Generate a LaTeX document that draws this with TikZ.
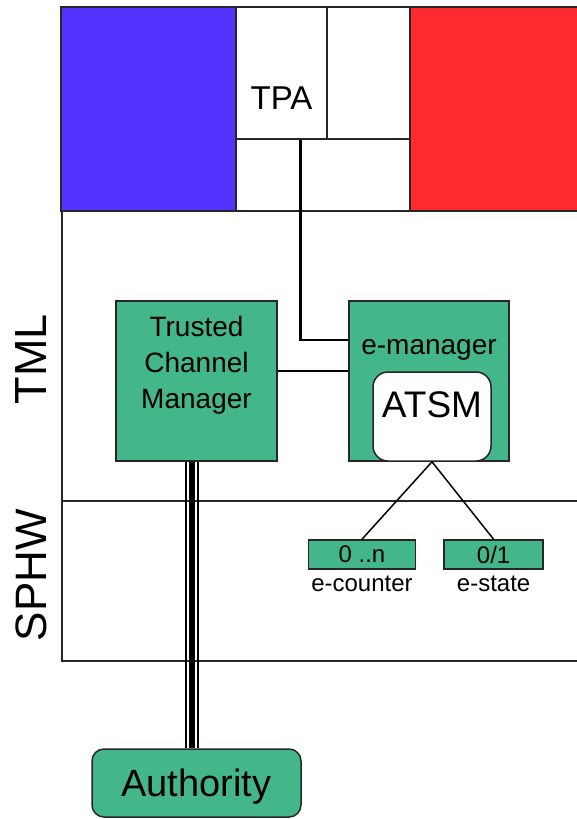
\documentclass[tikz,border=0pt]{standalone}
\usepackage{fontspec}
\setmainfont{Liberation Sans}
\usepackage{tikz}
\usetikzlibrary{positioning}
\definecolor{tmlgreen}{RGB}{67,183,138}
\definecolor{flagblue}{RGB}{85,51,255}
\definecolor{flagred}{RGB}{255,42,48}
\newcommand{\fsz}[2]{\fontsize{#1}{#2}\selectfont}

\begin{document}
\begin{tikzpicture}[x=1pt,y=-1pt]
\tikzstyle{band}=[rectangle, draw=black!85, line width=1.5pt, inner sep=0pt]
\tikzstyle{layer}=[rectangle, draw=black!85, line width=1.5pt, inner sep=0pt]
\tikzstyle{unit}=[rectangle, draw=black!85, line width=1.5pt, fill=tmlgreen, inner sep=0pt]
\tikzstyle{field}=[unit, font=\fsz{24}{28}]
\tikzstyle{lbl}=[font=\fsz{24}{28}, inner sep=0pt, label distance=6pt]
\tikzstyle{wire}=[line width=2.8pt]
\tikzstyle{link}=[line width=1.5pt]

\useasboundingbox (0,0) rectangle (577,819);
\clip (0,0) rectangle (577,819);

% the two layers
\node[layer, minimum width=540, minimum height=290] (tml) at (332,356) {};
\node[layer, minimum width=540, minimum height=160] (sphw) at (332,581) {};
\node[rotate=90, font=\fsz{45}{50}] (tmllbl) at (31.5,359) {TML};
\node[rotate=90, font=\fsz{44}{50}] (sphwlbl) at (31.7,575) {SPHW};

% application band
\node[band, fill=flagblue, minimum width=175, minimum height=204] (flagl) at (148.5,109) {};
\node[band, fill=white, minimum width=91, minimum height=132, label={[yshift=-25pt, font=\fsz{33}{38}]center:TPA}] (tpa) at (281.5,73) {};
\node[band, fill=white, minimum width=83, minimum height=132] (tpab) at (368.5,73) {};
\node[band, fill=white, minimum width=174, minimum height=72] (tpac) at (323,175) {};
\node[band, fill=flagred, minimum width=190, minimum height=204] (flagr) at (505,109) {};

\node[unit, minimum width=161, minimum height=160, label={[align=center, yshift=16pt, font=\fsz{28}{36}]center:{Trusted\\Channel\\Manager}}] (tcm) at (196.5,381) {};
\node[unit, minimum width=160, minimum height=160, label={[yshift=31pt, font=\fsz{28}{34}]center:e-manager}] (emgr) at (429,381) {};
\node[unit, fill=white, rounded corners=15pt, minimum width=118, minimum height=89, label={[yshift=11.5pt, font=\fsz{37}{42}]center:ATSM}] (atsm) at (432,416.5) {};

\node[field, minimum width=107, minimum height=29, label={[lbl]below:e-counter}] (ectr) at (362,554.5) {0 ..n};
\node[field, minimum width=99, minimum height=29, label={[lbl]below:e-state}] (estate) at (493.6,554.5) {0/1};

\node[unit, rounded corners=12pt, minimum width=209, minimum height=68, text depth=0pt, font=\fsz{38}{44}] (auth) at (196.5,783) {Authority};

\draw[wire] ([xshift=19.2pt]tpa.south) |- ([yshift=41pt]emgr.west);
\path[wire]
	([yshift=10pt]tcm.east) edge ([yshift=10pt]emgr.west);
\path[link]
	(atsm.south) edge (ectr.north)
	(atsm.south) edge (estate.north);
% channel to the authority
\path
	([xshift=-10.2pt]tcm.south) edge[line width=1.8pt] ([xshift=-10.2pt]auth.north)
	([xshift=-4.7pt]tcm.south) edge[line width=5.5pt] ([xshift=-4.7pt]auth.north)
	([xshift=1.5pt]tcm.south) edge[line width=2.5pt] ([xshift=1.5pt]auth.north);

\end{tikzpicture}
\end{document}
